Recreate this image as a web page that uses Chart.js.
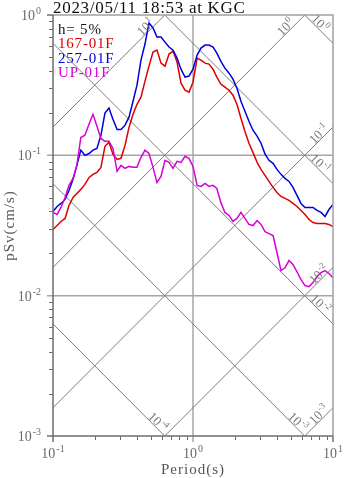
<!DOCTYPE html>
<html>
<head>
<meta charset="utf-8">
<script src="https://cdn.jsdelivr.net/npm/chart.js@4"></script>
<style>
html, body { margin: 0; padding: 0; background: #fff; }
</style>
</head>
<body>
<canvas id="myChart" width="347" height="478"></canvas>
<script>
// pseudo velocity response spectra, h = 5%
const periods = [0.1, 0.107, 0.114, 0.122, 0.130, 0.139, 0.148, 0.158, 0.169, 0.181,
    0.193, 0.206, 0.220, 0.235, 0.251, 0.268, 0.287, 0.306, 0.327, 0.349,
    0.373, 0.398, 0.425, 0.454, 0.485, 0.518, 0.553, 0.591, 0.631, 0.674,
    0.720, 0.769, 0.821, 0.877, 0.936, 1.0, 1.07, 1.14, 1.22, 1.30,
    1.39, 1.48, 1.58, 1.69, 1.81, 1.93, 2.06, 2.20, 2.35, 2.51,
    2.68, 2.87, 3.06, 3.27, 3.49, 3.73, 3.98, 4.25, 4.54, 4.85,
    5.18, 5.53, 5.91, 6.31, 6.74, 7.20, 7.69, 8.21, 8.77, 9.36, 10.0];

const sv167 = [0.0296, 0.0316, 0.0338, 0.0355, 0.0439, 0.0501, 0.0535, 0.0572, 0.0621, 0.0696,
    0.0732, 0.0756, 0.0821, 0.116, 0.124, 0.102, 0.0936, 0.0952, 0.118, 0.158,
    0.196, 0.231, 0.260, 0.338, 0.432, 0.544, 0.562, 0.454, 0.432, 0.527,
    0.553, 0.462, 0.327, 0.291, 0.282, 0.332, 0.493, 0.477, 0.454, 0.447,
    0.411, 0.361, 0.322, 0.306, 0.291, 0.268, 0.231, 0.184, 0.148, 0.122,
    0.105, 0.0891, 0.0794, 0.0720, 0.0652, 0.0591, 0.0544, 0.0509, 0.0493, 0.0477,
    0.0454, 0.0432, 0.0405, 0.0379, 0.0349, 0.0332, 0.0327, 0.0327, 0.0327, 0.0322, 0.0311];

const sv257 = [0.0398, 0.0432, 0.0454, 0.0485, 0.0562, 0.0674, 0.0848, 0.109, 0.100, 0.103,
    0.109, 0.112, 0.139, 0.200, 0.217, 0.181, 0.153, 0.153, 0.164, 0.187,
    0.243, 0.316, 0.477, 0.621, 0.877, 0.808, 0.696, 0.696, 0.641, 0.591,
    0.562, 0.493, 0.411, 0.361, 0.367, 0.411, 0.518, 0.581, 0.611, 0.611,
    0.591, 0.535, 0.469, 0.418, 0.385, 0.349, 0.301, 0.243, 0.206, 0.175,
    0.151, 0.137, 0.122, 0.102, 0.0921, 0.0877, 0.0794, 0.0732, 0.0685, 0.0652,
    0.0591, 0.0518, 0.0454, 0.0425, 0.0425, 0.0425, 0.0405, 0.0392, 0.0367, 0.0411, 0.0447];

const svUP = [0.0392, 0.0379, 0.0425, 0.0501, 0.0611, 0.0685, 0.0848, 0.134, 0.139, 0.167,
    0.196, 0.161, 0.132, 0.126, 0.126, 0.112, 0.0769, 0.0848, 0.0808, 0.0834,
    0.0821, 0.0821, 0.0968, 0.109, 0.103, 0.0821, 0.0642, 0.0708, 0.0921, 0.0891,
    0.0808, 0.0906, 0.0891, 0.0984, 0.0952, 0.0834, 0.0611, 0.0601, 0.0631, 0.0601,
    0.0611, 0.0581, 0.0462, 0.0392, 0.0373, 0.0338, 0.0355, 0.0392, 0.0355, 0.0322,
    0.0316, 0.0343, 0.0322, 0.0286, 0.0277, 0.0268, 0.0203, 0.0151, 0.0158, 0.0178,
    0.0167, 0.0148, 0.0130, 0.0118, 0.0116, 0.0124, 0.0137, 0.0146, 0.0151, 0.0144, 0.0134];

// tripartite guide lines: acceleration (gal) and displacement (cm)
const accelLevels = [10, 1, 0.1, 0.01, 0.001];
const dispLevels = [1, 0.1, 0.01, 0.001, 0.0001];

const xTicks = [0.1, 1, 10];
const yTicks = [1, 0.1, 0.01, 0.001];

const TWO_PI = 2 * Math.PI;
const SERIF = '"Liberation Serif", "Times New Roman", serif';

function series(vals) {
    return periods.map((t, i) => ({ x: t, y: vals[i] }));
}

function guide(pts) {
    return {
        data: pts,
        borderColor: '#7d7d7d',
        borderWidth: 1,
        pointRadius: 0,
        order: 3
    };
}

const guides = [];
accelLevels.forEach(a => {
    guides.push(guide([0.1, 10].map(t => ({ x: t, y: a * t / TWO_PI }))));
});
dispLevels.forEach(d => {
    guides.push(guide([0.1, 10].map(t => ({ x: t, y: TWO_PI * d / t }))));
});

// "10" with a raised exponent
function pow10(ctx, exp, x, y, size, align) {
    const base = size + 'px ' + SERIF;
    const sup = Math.round(size * 0.7) + 'px ' + SERIF;
    ctx.font = base;
    const w1 = ctx.measureText('10').width;
    ctx.font = sup;
    const w2 = ctx.measureText(String(exp)).width;
    let x0 = x;
    if (align === 'right') x0 = x - w1 - w2 - 1;
    if (align === 'center') x0 = x - (w1 + w2 + 1) / 2;
    ctx.textAlign = 'left';
    ctx.font = base;
    ctx.fillText('10', x0, y);
    ctx.font = sup;
    ctx.fillText(String(exp), x0 + w1 + 1, y - size * 0.42);
}

const frame = {
    id: 'frame',
    beforeDatasetsDraw(chart) {
        const { ctx, chartArea: a, scales: { x, y } } = chart;
        ctx.save();
        ctx.strokeStyle = '#a6a6a6';
        ctx.lineWidth = 1.5;
        [0.1, 0.01].forEach(v => {
            const py = y.getPixelForValue(v);
            ctx.beginPath();
            ctx.moveTo(a.left - 6, py);
            ctx.lineTo(a.right, py);
            ctx.stroke();
        });
        [1].forEach(v => {
            const px = x.getPixelForValue(v);
            ctx.beginPath();
            ctx.moveTo(px, a.top);
            ctx.lineTo(px, a.bottom + 6);
            ctx.stroke();
        });
        ctx.restore();
    },
    afterDraw(chart) {
        const { ctx, chartArea: a, scales: { x, y } } = chart;
        ctx.save();

        // plot border
        ctx.lineWidth = 1.5;
        ctx.strokeStyle = '#a0a0a0';
        ctx.beginPath();
        ctx.moveTo(a.left, a.top);
        ctx.lineTo(a.right, a.top);
        ctx.lineTo(a.right, a.bottom);
        ctx.stroke();
        ctx.strokeStyle = '#6e6e6e';
        ctx.beginPath();
        ctx.moveTo(a.left, a.top);
        ctx.lineTo(a.left, a.bottom);
        ctx.lineTo(a.right, a.bottom);
        ctx.stroke();

        // ticks
        ctx.lineWidth = 1;
        ctx.strokeStyle = '#6e6e6e';
        [0.001, 0.01, 0.1].forEach(dec => {
            for (let m = 2; m <= 9; m++) {
                const py = Math.round(y.getPixelForValue(m * dec)) + 0.5;
                ctx.beginPath();
                ctx.moveTo(a.left - 4, py);
                ctx.lineTo(a.left, py);
                ctx.stroke();
            }
        });
        [0.1, 1].forEach(dec => {
            for (let m = 2; m <= 9; m++) {
                const px = Math.round(x.getPixelForValue(m * dec)) + 0.5;
                ctx.beginPath();
                ctx.moveTo(px, a.bottom);
                ctx.lineTo(px, a.bottom + 4);
                ctx.stroke();
            }
        });
        ctx.lineWidth = 1.5;
        [1, 0.001].forEach(v => {
            const py = y.getPixelForValue(v);
            ctx.beginPath();
            ctx.moveTo(a.left - 6, py);
            ctx.lineTo(a.left, py);
            ctx.stroke();
        });
        [0.1, 10].forEach(v => {
            const px = x.getPixelForValue(v);
            ctx.beginPath();
            ctx.moveTo(px, a.bottom);
            ctx.lineTo(px, a.bottom + 6);
            ctx.stroke();
        });

        // tick labels
        ctx.fillStyle = '#6a6a6a';
        ctx.textBaseline = 'alphabetic';
        yTicks.forEach(v => {
            pow10(ctx, Math.round(Math.log10(v)), a.left - 12, y.getPixelForValue(v) + 5, 14, 'right');
        });
        xTicks.forEach(v => {
            pow10(ctx, Math.round(Math.log10(v)), x.getPixelForValue(v), a.bottom + 22, 14, 'center');
        });

        // guide line labels
        ctx.fillStyle = '#7a7a7a';
        accelLevels.forEach(lv => {
            const tTop = TWO_PI / lv;
            let cx;
            if (tTop <= 10) cx = x.getPixelForValue(tTop) - 19;
            else cx = a.right - 14;
            const t = x.getValueForPixel(cx);
            const cy = y.getPixelForValue(lv * t / TWO_PI) - 7;
            ctx.save();
            ctx.translate(cx, cy);
            ctx.rotate(-Math.PI / 4);
            pow10(ctx, Math.round(Math.log10(lv)), 0, 4, 13, 'center');
            ctx.restore();
        });
        dispLevels.forEach(lv => {
            const tBot = TWO_PI * lv / 0.001;
            let cx;
            if (tBot <= 10) cx = x.getPixelForValue(tBot) - 7;
            else cx = a.right - 13;
            const t = x.getValueForPixel(cx);
            const cy = y.getPixelForValue(TWO_PI * lv / t) - 7;
            ctx.save();
            ctx.translate(cx, cy);
            ctx.rotate(Math.PI / 4);
            pow10(ctx, Math.round(Math.log10(lv)), 0, 4, 13, 'center');
            ctx.restore();
        });

        // axis titles
        ctx.fillStyle = '#555';
        ctx.font = '15px ' + SERIF;
        ctx.letterSpacing = '1px';
        ctx.textAlign = 'center';
        ctx.fillText('Period(s)', (a.left + a.right) / 2, 474);
        ctx.save();
        ctx.translate(14, (a.top + a.bottom) / 2);
        ctx.rotate(-Math.PI / 2);
        ctx.fillText('pSv(cm/s)', 0, 0);
        ctx.restore();

        // title and legend
        ctx.textAlign = 'left';
        ctx.font = '17px ' + SERIF;
        ctx.letterSpacing = '0.7px';
        ctx.fillStyle = '#111';
        ctx.fillText('2023/05/11 18:53 at KGC', a.left, 13);
        ctx.font = '15px ' + SERIF;
        ctx.letterSpacing = '0.8px';
        const legend = [
            ['h= 5%', '#111'],
            ['167-01F', 'rgb(220,0,0)'],
            ['257-01F', 'rgb(0,0,220)'],
            ['UP-01F', 'rgb(215,0,215)']
        ];
        legend.forEach((row, i) => {
            ctx.fillStyle = row[1];
            ctx.fillText(row[0], a.left + 5, 34 + i * 14.3);
        });
        ctx.restore();
    }
};

const ctx = document.getElementById('myChart');

new Chart(ctx, {
    type: 'line',
    data: {
        datasets: [
            { label: 'UP-01F', data: series(svUP), borderColor: 'rgb(215,0,215)', order: 0 },
            { label: '257-01F', data: series(sv257), borderColor: 'rgb(0,0,220)', order: 1 },
            { label: '167-01F', data: series(sv167), borderColor: 'rgb(220,0,0)', order: 2 }
        ].map(ds => Object.assign(ds, { borderWidth: 1.5, pointRadius: 0, tension: 0 }))
            .concat(guides)
    },
    plugins: [frame],
    options: {
        responsive: false,
        animation: false,
        devicePixelRatio: 1,
        layout: { padding: { top: 15, right: 14, left: 0, bottom: 0 } },
        plugins: { legend: { display: false }, tooltip: { enabled: false }, title: { display: false } },
        scales: {
            x: {
                type: 'logarithmic',
                min: 0.1,
                max: 10,
                ticks: { display: false },
                grid: { display: false },
                border: { display: false },
                afterFit: function (scale) { scale.height = 42; }
            },
            y: {
                type: 'logarithmic',
                min: 0.001,
                max: 1,
                ticks: { display: false },
                grid: { display: false },
                border: { display: false },
                afterFit: function (scale) { scale.width = 53; }
            }
        }
    }
});
</script>
</body>
</html>
